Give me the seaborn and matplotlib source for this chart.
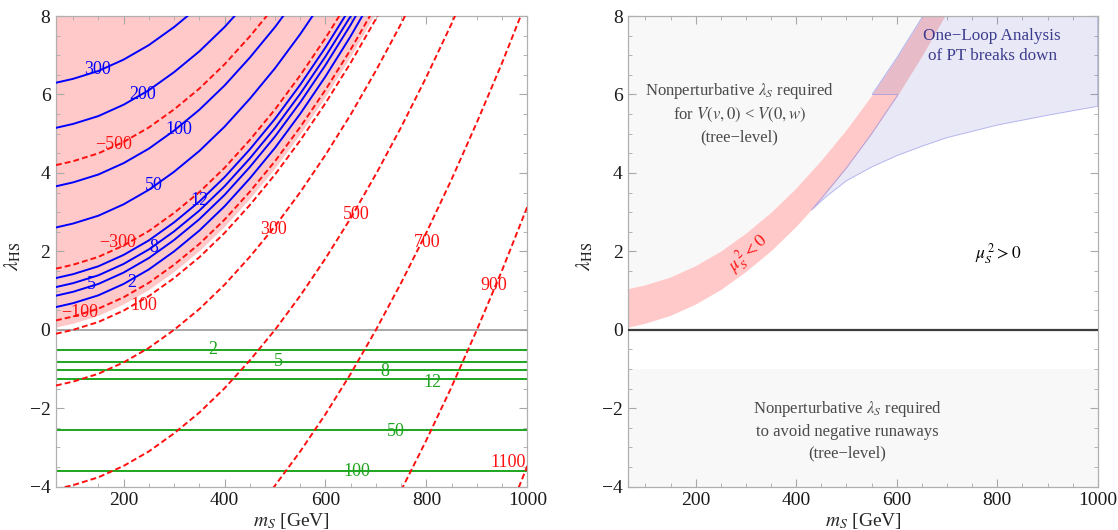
import numpy as np
import matplotlib
matplotlib.use("Agg")
import matplotlib.pyplot as plt
from matplotlib.ticker import MultipleLocator
import seaborn as sns

nan = np.nan

# m_S grid [GeV] the curves were read on
ms_grid = [66, 100, 150, 200, 250, 300, 350, 400, 450, 500,
           550, 600, 650, 700, 750, 800, 850, 900, 950, 1000]

# lambda_HS where mu_S^2 = 0 (lower edge of the pink region)
mu0_edge = [0.07, 0.17, 0.37, 0.66, 1.03, 1.49, 2.02, 2.64, 3.35, 4.13, 5.00, 5.95, 6.98, 8.10]
# upper edge of the mu_S^2 < 0 band (right panel)
band_top = [1.05, 1.15, 1.35, 1.64, 2.01, 2.47, 3.00, 3.62, 4.33, 5.11, 5.98, 6.93, 7.96, 9.08]

# blue solid contours: lambda_S needed for V(v,0) < V(0,w)
lamS_curves = {
    2:   [0.58, 0.68, 0.88, 1.17, 1.54, 2.00, 2.53, 3.15, 3.86, 4.64, 5.51, 6.46, 7.49, 8.61],
    5:   [0.87, 0.97, 1.17, 1.46, 1.83, 2.29, 2.82, 3.44, 4.15, 4.93, 5.80, 6.75, 7.78, 8.90],
    8:   [1.09, 1.19, 1.39, 1.68, 2.05, 2.51, 3.04, 3.66, 4.37, 5.15, 6.02, 6.97, 8.00, 9.12],
    12:  [1.32, 1.42, 1.62, 1.91, 2.28, 2.74, 3.27, 3.89, 4.60, 5.38, 6.25, 7.20, 8.23],
    50:  [2.61, 2.71, 2.91, 3.20, 3.57, 4.03, 4.56, 5.18, 5.89, 6.67, 7.54, 8.49],
    100: [3.66, 3.76, 3.96, 4.25, 4.62, 5.08, 5.61, 6.23, 6.94, 7.72, 8.59],
    200: [5.15, 5.25, 5.45, 5.74, 6.11, 6.57, 7.10, 7.72, 8.43],
    300: [6.30, 6.40, 6.60, 6.89, 7.26, 7.72, 8.25],
}

# red dashed contours: sign(mu_S^2) sqrt|mu_S^2| [GeV]
muS_curves = {
    -500: [4.20, 4.30, 4.50, 4.79, 5.16, 5.62, 6.15, 6.77, 7.48, 8.26],
    -300: [1.56, 1.66, 1.86, 2.15, 2.52, 2.98, 3.51, 4.13, 4.84, 5.62, 6.49, 7.44, 8.47],
    -100: [0.24, 0.34, 0.54, 0.83, 1.20, 1.66, 2.19, 2.81, 3.52, 4.30, 5.17, 6.12, 7.15, 8.27],
    100:  [-0.10, 0.00, 0.20, 0.49, 0.86, 1.32, 1.85, 2.47, 3.18, 3.96, 4.83, 5.78, 6.81, 7.93, 9.13],
    300:  [-1.42, -1.32, -1.12, -0.83, -0.46, 0.00, 0.53, 1.15, 1.86, 2.64, 3.51, 4.46, 5.49,
           6.61, 7.81, 9.09],
    500:  [-4.06, -3.96, -3.76, -3.47, -3.10, -2.64, -2.11, -1.49, -0.78, 0.00, 0.87, 1.82,
           2.85, 3.97, 5.17, 6.45, 7.81, 9.26],
    700:  [nan] * 8 + [-4.75, -3.97, -3.10, -2.15, -1.12, 0.00, 1.20, 2.48, 3.84, 5.29, 6.81, 8.43],
    900:  [nan] * 14 + [-4.09, -2.81, -1.45, 0.00, 1.52, 3.14],
    1100: [nan] * 18 + [-5.08, -3.47],
}

# green lines: lambda_S needed against negative runaways
runaway_levels = [2, 5, 8, 12, 50, 100]
runaway_lam = [-0.51, -0.81, -1.02, -1.25, -2.55, -3.61]

# right panel: lower edge of the "one-loop breaks down" region
loop_ms = [430, 460, 500, 550, 600, 650, 700, 800, 900, 1000]
loop_lo = [3.05, 3.40, 3.80, 4.15, 4.44, 4.68, 4.90, 5.22, 5.47, 5.70]
loop_cap = 6.0
runaway_lim = -1.0

# contour label spots (x, y)
lamS_pos = {300: (149, 6.64), 200: (238, 6.00), 100: (309, 5.11), 50: (259, 3.67),
            12: (351, 3.29), 8: (259, 2.10), 5: (137, 1.16), 2: (216, 1.21)}
muS_pos = {-500: (181, 4.73), -300: (188, 2.23), -100: (113, 0.44), 100: (241, 0.61),
           300: (496, 2.56), 500: (660, 2.95), 700: (801, 2.23), 900: (933, 1.12),
           1100: (961, -3.39)}
runaway_pos = [(376, -0.51), (507, -0.80), (718, -1.05), (812, -1.34), (740, -2.58), (663, -3.60)]

xlim = (66, 1000)
ylim = (-4, 8)

sns.set_style("ticks")
plt.rcParams["font.family"] = ["Liberation Serif", "DejaVu Serif"]
plt.rcParams["mathtext.fontset"] = "stix"

BLUE = "#0000ff"
RED = "#ff1010"
GREEN = "#1ea51e"
PINK = "#ffc9c9"
GREY = "#f8f8f8"
DASH = (0, (3.0, 1.6))
LABEL_FS = 13

fig = plt.figure(figsize=(11.18, 5.30), dpi=100)
ax1 = fig.add_axes([0.0501, 0.0817, 0.4216, 0.888])
ax2 = fig.add_axes([0.5620, 0.0817, 0.4199, 0.888])

# ---------------- left panel ----------------
edge_ms = ms_grid[:len(mu0_edge)]
ax1.fill_between(edge_ms, mu0_edge, ylim[1], color=PINK, lw=0, zorder=0)
ax1.axhline(0, color="#9a9a9a", lw=1.2, zorder=1)

for lev, vals in lamS_curves.items():
    sns.lineplot(x=ms_grid[:len(vals)], y=vals, ax=ax1, color=BLUE, lw=1.4, zorder=3)
    ax1.text(*lamS_pos[lev], str(lev), color=BLUE, fontsize=LABEL_FS, ha="center", va="center", zorder=5)

for lev, vals in muS_curves.items():
    sns.lineplot(x=ms_grid[:len(vals)], y=vals, ax=ax1, color=RED, lw=1.4,
                 linestyle=DASH, zorder=3)
    lab = str(lev).replace("-", "\u2212")
    ax1.text(*muS_pos[lev], lab, color=RED, fontsize=LABEL_FS, ha="center", va="center", zorder=5)

for lev, lam, pos in zip(runaway_levels, runaway_lam, runaway_pos):
    ax1.axhline(lam, color=GREEN, lw=1.4, zorder=2)
    ax1.text(*pos, str(lev), color=GREEN, fontsize=LABEL_FS, ha="center", va="center", zorder=5)

# ---------------- right panel ----------------
ax2.fill_between(edge_ms, band_top, ylim[1], color=GREY, lw=0, zorder=0)
ax2.axhspan(ylim[0], runaway_lim, color=GREY, lw=0, zorder=0)
ax2.fill_between(edge_ms, mu0_edge, band_top, color=PINK, lw=0, zorder=1)

lo = np.array(mu0_edge)
hi = np.array(band_top)
bx = np.array(edge_ms)
x_hi8 = np.interp(ylim[1], hi, bx)
x_hi6 = np.interp(loop_cap, hi, bx)
x_lo6 = np.interp(loop_cap, lo, bx)
up = (hi > loop_cap) & (hi < ylim[1])
dn = (lo > loop_lo[0]) & (lo < loop_cap)
poly_x = list(loop_ms) + [xlim[1], x_hi8] + list(bx[up][::-1]) + [x_hi6, x_lo6] + list(bx[dn][::-1])
poly_y = list(loop_lo) + [ylim[1], ylim[1]] + list(hi[up][::-1]) + [loop_cap, loop_cap] + list(lo[dn][::-1])
ax2.fill(poly_x, poly_y, facecolor=(0.42, 0.42, 0.79, 0.15), edgecolor=(0.55, 0.55, 0.9, 0.6),
         lw=0.7, zorder=2)

ax2.axhline(0, color="#3c3c3c", lw=1.6, zorder=3)

txt_grey = "#4a4a4a"
ax2.text(287, 5.53, "Nonperturbative $\\lambda_S$ required\nfor $V(v,0)$ < $V(0,w)$\n(tree\u2212level)",
         ha="center", va="center", fontsize=12, color=txt_grey, linespacing=1.4)
ax2.text(790, 7.235, "One\u2212Loop Analysis\nof PT breaks down", ha="center", va="center",
         fontsize=12.3, color="#3b3b8e", linespacing=1.4)
ax2.text(304, 1.94, "$\\mu_S^{\\,2} < 0$", ha="center", va="center", fontsize=12.5, color=RED,
         rotation=42)
ax2.text(801, 1.94, "$\\mu_S^{\\,2} > 0$", ha="center", va="center", fontsize=12.5, color="black")
ax2.text(502, -2.56, "Nonperturbative $\\lambda_S$ required\nto avoid negative runaways\n(tree\u2212level)",
         ha="center", va="center", fontsize=12, color=txt_grey, linespacing=1.4)

for ax in (ax1, ax2):
    ax.set_xlim(*xlim)
    ax.set_ylim(*ylim)
    ax.set_xticks([200, 400, 600, 800, 1000])
    ax.set_yticks([-4, -2, 0, 2, 4, 6, 8])
    ax.xaxis.set_minor_locator(MultipleLocator(50))
    ax.yaxis.set_minor_locator(MultipleLocator(0.5))
    ax.tick_params(which="both", direction="in", top=True, right=True, color="#a8a8a8",
                   labelsize=14, labelcolor="#1a1a1a", pad=4)
    ax.tick_params(which="major", length=6, width=0.8)
    ax.tick_params(which="minor", length=3, width=0.6)
    for sp in ax.spines.values():
        sp.set_color("#b0b0b0")
        sp.set_linewidth(0.9)
    ax.set_xlabel("$m_S$ [GeV]", fontsize=14)
    ax.set_ylabel("$\\lambda_{\\mathrm{HS}}$", fontsize=15)
    ax.xaxis.set_label_coords(0.5, -0.051)
    ax.yaxis.set_label_coords(-0.07, 0.49)
    ax.xaxis.label.set_va("top")

fig.savefig("out.png", dpi=100)
